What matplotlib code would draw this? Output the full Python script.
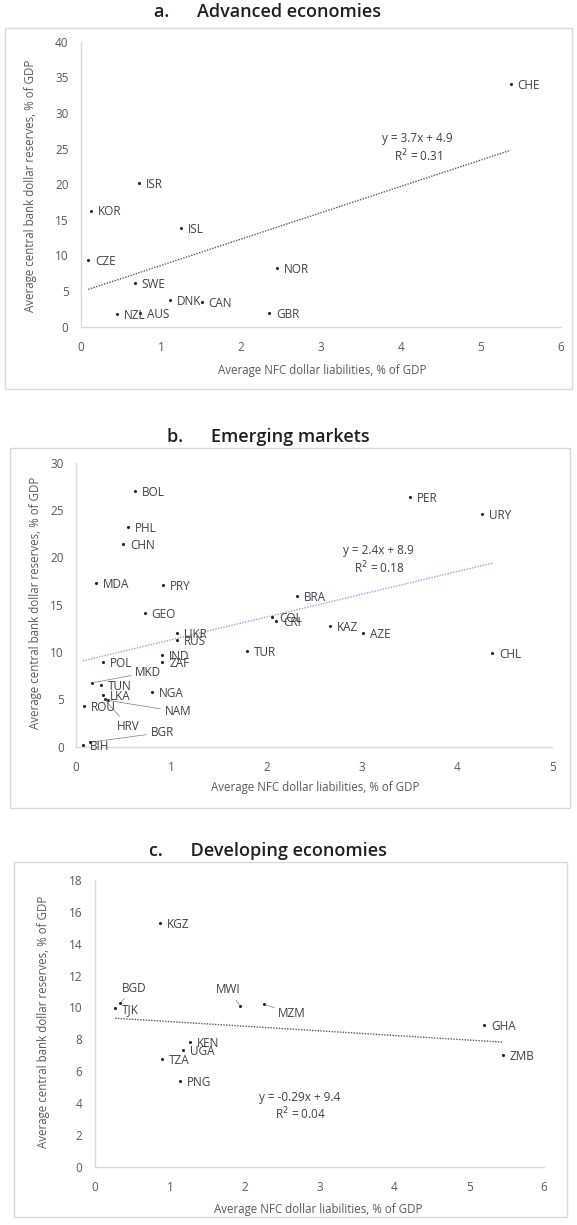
import matplotlib
matplotlib.use("Agg")
import matplotlib.pyplot as plt
from matplotlib.patches import Rectangle

# ---- data ----
adv_codes = ["CHE", "ISR", "KOR", "ISL", "CZE", "NOR", "SWE", "DNK", "CAN", "NZL", "AUS", "GBR"]
adv_x = [5.37, 0.73, 0.12, 1.25, 0.09, 2.45, 0.67, 1.11, 1.51, 0.45, 0.74, 2.35]
adv_y = [34.0, 20.2, 16.3, 13.9, 9.4, 8.2, 6.1, 3.75, 3.4, 1.8, 1.9, 1.97]
adv_fit = (3.7, 4.9)
adv_r2 = "0.31"

em_codes = ["BOL", "PER", "URY", "PHL", "CHN", "MDA", "PRY", "BRA", "GEO", "COL", "CRI",
            "KAZ", "AZE", "UKR", "RUS", "TUR", "CHL", "IND", "ZAF", "POL", "MKD", "TUN",
            "NGA", "LKA", "NAM", "HRV", "ROU", "BGR", "BIH"]
em_x = [0.62, 3.51, 4.26, 0.545, 0.49, 0.21, 0.91, 2.32, 0.72, 2.06, 2.10,
        2.67, 3.01, 1.06, 1.06, 1.79, 4.37, 0.905, 0.905, 0.28, 0.17, 0.26,
        0.80, 0.285, 0.33, 0.30, 0.08, 0.145, 0.07]
em_y = [27.0, 26.4, 24.6, 23.2, 21.4, 17.25, 17.1, 15.9, 14.1, 13.7, 13.3,
        12.7, 12.0, 12.0, 11.3, 10.1, 9.9, 9.7, 8.9, 8.9, 6.75, 6.5,
        5.8, 5.5, 4.9, 5.0, 4.3, 0.47, 0.18]
em_fit = (2.4, 8.9)
em_r2 = "0.18"

dev_codes = ["KGZ", "BGD", "TJK", "MWI", "MZM", "GHA", "ZMB", "KEN", "UGA", "TZA", "PNG"]
dev_x = [0.87, 0.34, 0.27, 1.94, 2.26, 5.2, 5.45, 1.27, 1.18, 0.90, 1.13]
dev_y = [15.3, 10.3, 9.98, 10.1, 10.2, 8.9, 7.0, 7.8, 7.3, 6.76, 5.4]
dev_fit = (-0.29, 9.4)
dev_r2 = "0.04"

# ---- style ----
W, H = 577, 1225
FONT = ["Open Sans", "DejaVu Sans"]
TICK_COLOR = "#595959"
LABEL_COLOR = "#404040"
AXIS_COLOR = "#d9d9d9"
BOX_COLOR = "#d9d9d9"
PT_SIZE = 8.5        # country labels / equations
TICK_SIZE = 8.5
AXLABEL_SIZE = 8.3

# labels placed away from their dot, with a leader line (data coords)
LEADERS = {
    "b": {"MKD": (0.62, 7.85), "NAM": (0.93, 3.7), "HRV": (0.43, 2.1), "BGR": (0.78, 1.5)},
    "c": {"BGD": (0.36, 11.2), "MWI": (1.62, 11.1), "MZM": (2.45, 9.6)},
}


def px(x, y):
    """pixel position (top-left origin) -> figure fraction"""
    return x / W, 1 - y / H


def make_axes(fig, x0, x1, y0, y1):
    """axes from pixel extents of the plotting area"""
    l, b = px(x0, y0)
    r, t = px(x1, y1)
    return fig.add_axes([l, b, r - l, t - b])


def draw_panel(ax, key, codes, xs, ys, fit, r2, xmax, ymax, ystep, eq_pos, line_color):
    ax.scatter(xs, ys, s=5, color="#262626", zorder=3, linewidths=0)

    # trend line over the data range
    slope, icpt = fit
    lo, hi = min(xs), max(xs)
    ax.plot([lo, hi], [slope * lo + icpt, slope * hi + icpt], linestyle=(0, (1, 1)),
            color=line_color, lw=1.0, zorder=2)

    sign = "+" if icpt >= 0 else "-"
    eq = f"y = {slope:g}x {sign} {abs(icpt):g}"
    ax.text(eq_pos[0], eq_pos[1], eq, ha="center", va="center", fontsize=PT_SIZE,
            color=LABEL_COLOR, family=FONT)
    ax.text(eq_pos[0], eq_pos[1] - ymax * 0.06, f"R$^2$ = {r2}", ha="center", va="center",
            fontsize=PT_SIZE, color=LABEL_COLOR, family=FONT)

    leaders = LEADERS.get(key, {})
    for code, x, y in zip(codes, xs, ys):
        if code in leaders:
            tx, ty = leaders[code]
            ax.annotate(code, xy=(x, y), xytext=(tx, ty), textcoords="data",
                        fontsize=PT_SIZE, color=LABEL_COLOR, family=FONT, va="center", ha="left",
                        arrowprops=dict(arrowstyle="-", color="#7f7f7f", lw=0.5,
                                        shrinkA=1, shrinkB=1))
        else:
            ax.annotate(code, xy=(x, y), xytext=(5, -1), textcoords="offset points",
                        fontsize=PT_SIZE, color=LABEL_COLOR, family=FONT, va="center", ha="left")

    ax.set_xlim(0, xmax)
    ax.set_ylim(0, ymax)
    ax.set_xticks(range(0, xmax + 1))
    ax.set_yticks(range(0, ymax + 1, ystep))
    for side in ["top", "right"]:
        ax.spines[side].set_visible(False)
    for side in ["left", "bottom"]:
        ax.spines[side].set_color(AXIS_COLOR)
        ax.spines[side].set_linewidth(1.0)
    ax.tick_params(length=0, labelsize=TICK_SIZE, colors=TICK_COLOR)
    ax.tick_params(axis="x", pad=10)
    ax.tick_params(axis="y", pad=9)
    for lab in ax.get_xticklabels() + ax.get_yticklabels():
        lab.set_family(FONT)
    ax.patch.set_alpha(0)


fig = plt.figure(figsize=(W / 100, H / 100), dpi=100)

# panel frames and titles
frames = [(5, 28, 572, 389), (10, 448, 570, 808), (14, 862, 567, 1217)]
for x0, y0, x1, y1 in frames:
    l, b = px(x0, y1)
    fig.add_artist(Rectangle((l, b), (x1 - x0) / W, (y1 - y0) / H, transform=fig.transFigure,
                             fill=False, edgecolor=BOX_COLOR, lw=1.0))

titles = [("a.      Advanced economies", 12), ("b.      Emerging markets", 437),
          ("c.      Developing economies", 851)]
for text, ty in titles:
    fig.text(*px(268, ty), text, ha="center", va="center", fontsize=13,
             fontweight="semibold", color="#1f1f1f", family=FONT)

ax_a = make_axes(fig, 81, 561, 326.7, 41.7)
draw_panel(ax_a, "a", adv_codes, adv_x, adv_y, adv_fit, adv_r2, 6, 40, 5, (4.21, 26.4), "#595959")

ax_b = make_axes(fig, 76.2, 552.1, 746.7, 462.7)
draw_panel(ax_b, "b", em_codes, em_x, em_y, em_fit, em_r2, 5, 30, 5, (3.18, 20.7), "#8faadc")

ax_c = make_axes(fig, 95, 544, 1166.7, 880)
draw_panel(ax_c, "c", dev_codes, dev_x, dev_y, dev_fit, dev_r2, 6, 18, 2, (2.74, 4.36), "#595959")

# axis titles
YLAB = "Average central bank dollar reserves, % of GDP"
XLAB = "Average NFC dollar liabilities, % of GDP"
for (xl, xy), (yx, yy) in [((322, 370), (31, 186)), ((315, 788), (36, 603)),
                           ((318, 1210), (44, 1022))]:
    fig.text(*px(xl, xy), XLAB, ha="center", va="center", fontsize=AXLABEL_SIZE,
             color=TICK_COLOR, family=FONT)
    fig.text(*px(yx, yy), YLAB, ha="center", va="center", rotation=90, fontsize=AXLABEL_SIZE,
             color=TICK_COLOR, family=FONT)

fig.savefig("out.png", dpi=100, facecolor="white")
